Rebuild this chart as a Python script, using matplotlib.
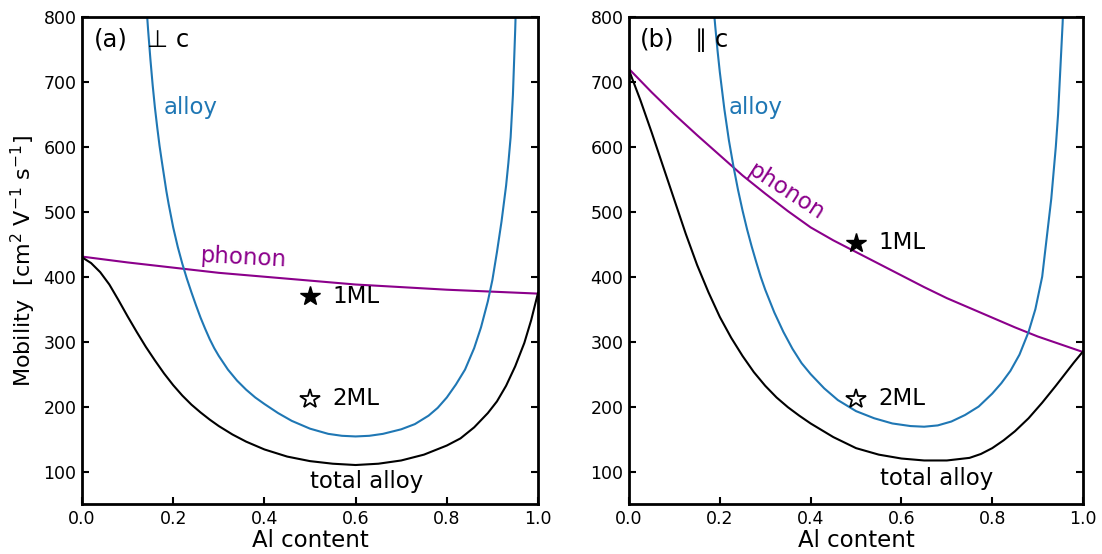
import numpy as np
import matplotlib.pyplot as plt

# ---- data ----
# panel (a): perpendicular to c
x_phon_a = [0.0, 0.1, 0.2, 0.3, 0.4, 0.5, 0.6, 0.7, 0.8, 0.9, 1.0]
phonon_a = [431, 422, 414, 406, 400, 394, 388, 384, 380, 377, 374]

x_alloy_a = [0.14, 0.145, 0.15, 0.155, 0.16, 0.165, 0.17, 0.175, 0.18, 0.185, 0.19,
             0.20, 0.21, 0.22, 0.23, 0.24, 0.25, 0.26, 0.27, 0.28, 0.29, 0.30,
             0.32, 0.34, 0.36, 0.38, 0.40, 0.43, 0.46, 0.50, 0.54, 0.57, 0.60,
             0.63, 0.66, 0.70, 0.73, 0.76, 0.78, 0.80, 0.82, 0.84, 0.86, 0.875,
             0.89, 0.90, 0.91, 0.92, 0.93, 0.935, 0.94, 0.945, 0.95, 0.955]
alloy_a = [830, 780, 735, 695, 660, 630, 602, 578, 555, 532, 512,
           476, 446, 420, 397, 376, 356, 337, 320, 304, 290, 278,
           257, 240, 226, 214, 204, 190, 178, 166, 158, 155, 154,
           155, 158, 165, 173, 186, 198, 214, 234, 257, 290, 322,
           362, 395, 438, 485, 540, 575, 615, 680, 780, 900]

x_tot_a = [0.0, 0.02, 0.04, 0.06, 0.08, 0.1, 0.12, 0.14, 0.16, 0.18, 0.2, 0.22,
           0.24, 0.26, 0.28, 0.3, 0.33, 0.36, 0.4, 0.45, 0.5, 0.55, 0.6, 0.65,
           0.7, 0.75, 0.8, 0.83, 0.86, 0.89, 0.91, 0.93, 0.95, 0.97, 0.985, 1.0]
total_a = [430, 421, 407, 388, 364, 339, 315, 292, 271, 251, 233, 217,
           203, 191, 180, 170, 157, 146, 134, 123, 116, 112, 110, 112,
           117, 126, 140, 151, 168, 190, 208, 232, 262, 298, 333, 375]

# panel (b): parallel to c
x_phon_b = [0.0, 0.05, 0.1, 0.15, 0.2, 0.25, 0.3, 0.35, 0.4, 0.45, 0.5,
            0.55, 0.6, 0.65, 0.7, 0.75, 0.8, 0.85, 0.9, 0.95, 1.0]
phonon_b = [720, 684, 650, 618, 587, 556, 528, 501, 476, 456, 438,
            420, 402, 384, 367, 352, 337, 322, 308, 296, 284]

x_alloy_b = [0.18, 0.185, 0.19, 0.195, 0.20, 0.21, 0.22, 0.23, 0.24, 0.25, 0.26,
             0.27, 0.28, 0.29, 0.30, 0.32, 0.34, 0.36, 0.38, 0.40, 0.43, 0.46,
             0.50, 0.54, 0.58, 0.62, 0.65, 0.68, 0.71, 0.74, 0.77, 0.80, 0.82,
             0.84, 0.86, 0.88, 0.895, 0.91, 0.92, 0.93, 0.94, 0.945, 0.95,
             0.955, 0.96]
alloy_b = [870, 825, 785, 748, 715, 658, 610, 570, 534, 502, 473,
           447, 423, 400, 380, 345, 315, 289, 267, 250, 228, 210,
           193, 182, 174, 170, 169, 171, 177, 187, 200, 220, 236,
           255, 280, 315, 350, 400, 460, 520, 600, 650, 720,
           790, 880]

x_tot_b = [0.0, 0.025, 0.05, 0.075, 0.1, 0.125, 0.15, 0.175, 0.2, 0.225, 0.25,
           0.275, 0.3, 0.325, 0.35, 0.375, 0.4, 0.45, 0.5, 0.55, 0.6, 0.65,
           0.7, 0.75, 0.775, 0.8, 0.825, 0.85, 0.88, 0.91, 0.94, 0.96, 0.98, 1.0]
total_b = [718, 672, 622, 570, 518, 466, 418, 376, 338, 306, 278,
           253, 232, 214, 199, 186, 174, 153, 136, 126, 120, 117,
           117, 121, 127, 136, 148, 162, 182, 206, 232, 250, 268, 285]

# single-layer / double-layer points
ml_x = [0.5, 0.5]
ml_a = [370, 212]
ml_b = [452, 212]
ml_names = ['1ML', '2ML']

purple = 'darkmagenta'
blue = '#1f77b4'

fig = plt.figure(figsize=(11.02, 5.54), dpi=100)
ax1 = fig.add_axes([0.0744, 0.0903, 0.4138, 0.879])
ax2 = fig.add_axes([0.5708, 0.0903, 0.412, 0.879])


def style(ax):
    ax.set_xlim(0, 1)
    ax.set_ylim(50, 800)
    ax.set_xticks([0.0, 0.2, 0.4, 0.6, 0.8, 1.0])
    ax.set_yticks([100, 200, 300, 400, 500, 600, 700, 800])
    ax.tick_params(direction='in', length=5, width=1.5, labelsize=12.5,
                   left=True, right=True, top=False, bottom=True, pad=4)
    for s in ax.spines.values():
        s.set_linewidth(2)
    ax.set_xlabel('Al content', fontsize=16.5, labelpad=1)


for ax, xp, ph, xa, al, xt, tot, ml in [
        (ax1, x_phon_a, phonon_a, x_alloy_a, alloy_a, x_tot_a, total_a, ml_a),
        (ax2, x_phon_b, phonon_b, x_alloy_b, alloy_b, x_tot_b, total_b, ml_b)]:
    ax.plot(xp, ph, color=purple, lw=1.5)
    ax.plot(xa, al, color=blue, lw=1.5)
    ax.plot(xt, tot, color='black', lw=1.5)
    ax.plot(ml_x[0], ml[0], marker='*', ms=15, color='black', ls='none')
    ax.plot(ml_x[1], ml[1], marker='*', ms=15, mfc='white', mec='black',
            mew=1.3, ls='none')
    for xv, yv, name in zip(ml_x, ml, ml_names):
        ax.text(xv + 0.05, yv, name, fontsize=16.5, va='center', ha='left')
    style(ax)

ax1.set_ylabel('Mobility  [cm$^2$ V$^{-1}$ s$^{-1}$]', fontsize=16, labelpad=4)

ax1.text(0.025, 765, '(a)', fontsize=17.5, va='center')
ax1.text(0.143, 765, '\u22a5 c', fontsize=17.5, va='center')
ax1.text(0.18, 661, 'alloy', color=blue, fontsize=16.5, va='center')
ax1.text(0.258, 429, 'phonon', color=purple, fontsize=16.5, va='center',
         rotation=-3)
ax1.text(0.5, 85, 'total alloy', fontsize=16.5, va='center')

ax2.text(0.025, 765, '(b)', fontsize=17.5, va='center')
ax2.text(0.145, 765, '\u2225 c', fontsize=17.5, va='center')
ax2.text(0.22, 661, 'alloy', color=blue, fontsize=16.5, va='center')
ax2.text(0.346, 530, 'phonon', color=purple, fontsize=16.5, va='center',
         ha='center', rotation=-33, rotation_mode='anchor')
ax2.text(0.553, 90, 'total alloy', fontsize=16.5, va='center')

fig.savefig('out.png', dpi=100)
